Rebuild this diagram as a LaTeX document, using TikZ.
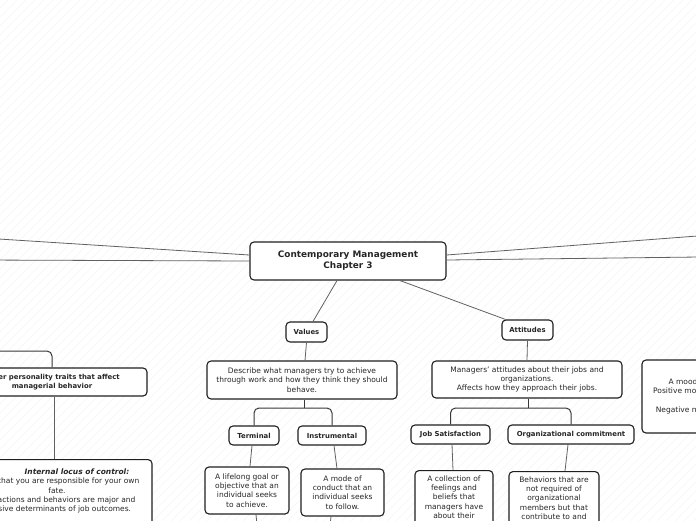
\documentclass[tikz,border=0pt]{standalone}
\usepackage{fontspec}
\setmainfont{DejaVu Sans}
\begin{document}
\begin{tikzpicture}[x=1pt,y=-1pt,
  box/.style={draw=black!88, line width=1.1pt, rounded corners=4pt, fill=white, text=black!85, align=center, inner xsep=0pt, inner ysep=0pt},
  titlebox/.style={box, font=\fontsize{8.9}{11}\selectfont\bfseries},
  lbl/.style={box, font=\fontsize{6.9}{8.5}\selectfont\bfseries},
  txt/.style={box, font=\fontsize{7.5}{9.3}\selectfont},
  leaf/.style={txt, anchor=north, inner ysep=5pt},
  conn/.style={draw=black!62, line width=0.8pt},
  brk/.style={draw=black!78, line width=1pt, rounded corners=5pt},
  hatch/.style={draw=black!4, line width=0.6pt}]
\useasboundingbox (0,0) rectangle (696,520);
\clip (0,0) rectangle (696,520);
\fill[white] (0,0) rectangle (696,520);
\foreach \k in {-540,-531,...,700} {\draw[hatch] (\k,530) -- ++(540,-540);}

% nodes
\node[titlebox, minimum width=196pt, minimum height=38pt] (center) at (348,261) {Contemporary Management\\Chapter 3};
\node[lbl, minimum width=41pt, minimum height=20pt] (values) at (306.5,332) {Values};
\node[lbl, minimum width=51pt, minimum height=20pt] (attitudes) at (527.5,330) {Attitudes};
\node[txt, minimum width=190pt, minimum height=38pt] (valdesc) at (302,380) {Describe what managers try to achieve\\through work and how they think they should\\behave.};
\node[txt, minimum width=190pt, minimum height=37pt] (attdesc) at (527,379.5) {Managers’ attitudes about their jobs and\\organizations.\\Affects how they approach their jobs.};
\node[lbl, minimum width=50pt, minimum height=19pt] (terminal) at (254,435.5) {Terminal};
\node[lbl, minimum width=68pt, minimum height=19pt] (instrumental) at (332,435.5) {Instrumental};
\node[lbl, minimum width=79pt, minimum height=19pt] (jobsat) at (450.5,434.5) {Job Satisfaction};
\node[lbl, minimum width=126pt, minimum height=19pt] (orgcom) at (571,434.5) {Organizational commitment};
\node[txt, minimum width=84pt, minimum height=47pt] (termleaf) at (247,490.5) {A lifelong goal or\\objective that an\\individual seeks\\to achieve.};
\node[txt, minimum width=83pt, minimum height=47pt] (instleaf) at (342.5,492.5) {A mode of\\conduct that an\\individual seeks\\to follow.};
\node[leaf, minimum width=78pt] (jsleaf) at (454,470) {A collection of\\feelings and\\beliefs that\\managers have\\about their\\current jobs.};
\node[leaf, minimum width=90pt] (ocleaf) at (554,471) {Behaviors that are\\not required of\\organizational\\members but that\\contribute to and\\are necessary for\\organizational\\efficiency.};
\node[txt, minimum width=190pt, minimum height=73pt] (mood) at (737,396.5) {A mood is a feeling or state of mind.\\Positive moods: feeling excited, enthusiastic\\ \\Negative moods: feeling distressed, fearful};
\node[lbl, minimum width=190pt, minimum height=28pt] (pers) at (52,382) {Other personality traits that affect\\managerial behavior};
\node[leaf, minimum width=190pt, minimum height=80pt] (locus) at (57,459) {\hspace*{40pt}\textbf{\textit{Internal locus of control:}}\\Belief that you are responsible for your own\\fate.\\Own actions and behaviors are major and\\decisive determinants of job outcomes.\\ \\ };

% free ends
\coordinate (L1) at (-20,237.8);
\coordinate (L2) at (-20,260);
\coordinate (R1) at (716,234.6);
\coordinate (R2) at (716,256.8);
\coordinate (vb) at (304,408);
\coordinate (ab) at (528,408);
\coordinate (pb) at (-30,351);
\coordinate (tb) at (258,535);
\coordinate (ib) at (329,535);

% connectors
\draw[conn] ([yshift=6pt]center.west) -- (L1);
\draw[conn] (center.west) -- (L2);
\draw[conn] ([yshift=6pt]center.east) -- (R1);
\draw[conn] ([yshift=1pt]center.east) -- (R2);
\draw[conn] ([xshift=-11pt]center.south) -- ([xshift=6.5pt]values.north);
\draw[conn] ([xshift=52pt]center.south) -- ([xshift=-22pt]attitudes.north);
\draw[conn] (values.south) -- ([xshift=3pt]valdesc.north);
\draw[conn] (attitudes.south) -- (attdesc.north);
\draw[brk] ([xshift=2pt]valdesc.south) -- (vb);
\draw[brk] (terminal.north) |- (vb) -| (instrumental.north);
\draw[brk] ([xshift=1pt]attdesc.south) -- (ab);
\draw[brk] (jobsat.north) |- (ab) -| (orgcom.north);
\draw[conn] ([xshift=-2pt]terminal.south) -- ([xshift=3pt]termleaf.north);
\draw[conn] ([xshift=2pt]instrumental.south) -- ([xshift=-5.5pt]instleaf.north);
\draw[conn] ([xshift=1.5pt]jobsat.south) -- ([xshift=-1pt]jsleaf.north);
\draw[conn] ([xshift=-3pt]orgcom.south) -- ([xshift=11pt]ocleaf.north);
\draw[conn] ([xshift=9pt]termleaf.south) -- (tb);
\draw[conn] ([xshift=-11.5pt]instleaf.south) -- (ib);
\draw[brk] (pb) -| (pers.north);
\draw[conn] ([xshift=2pt]pers.south) -- ([xshift=-3pt]locus.north);
\end{tikzpicture}
\end{document}
